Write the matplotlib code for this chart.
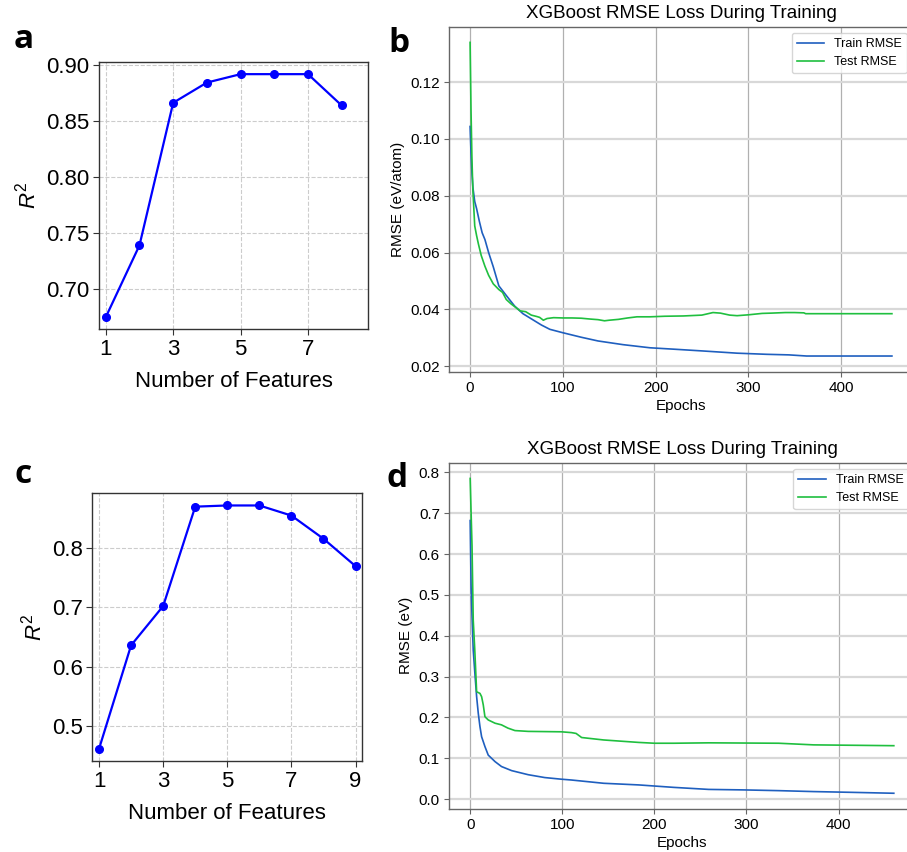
import matplotlib
matplotlib.use("Agg")
import matplotlib.pyplot as plt

plt.rcParams['font.family'] = ['Liberation Sans', 'DejaVu Sans']
plt.rcParams['mathtext.fontset'] = 'custom'
plt.rcParams['mathtext.rm'] = 'Liberation Sans'
plt.rcParams['mathtext.it'] = 'Liberation Sans:italic'

# ---------------- data ----------------
feat_a = [1, 2, 3, 4, 5, 6, 7, 8]
r2_a = [0.675, 0.739, 0.866, 0.884, 0.8915, 0.8915, 0.8915, 0.8636]

feat_c = [1, 2, 3, 4, 5, 6, 7, 8, 9]
r2_c = [0.462, 0.636, 0.702, 0.869, 0.871, 0.871, 0.854, 0.815, 0.769]

ep_b_train = [0, 1, 2, 3, 5, 7, 10, 13, 16, 20, 25, 31, 40, 48, 57, 67, 77, 86,
              100, 120, 138, 165, 194, 220, 250, 288, 320, 344, 363, 400, 455]
rmse_b_train = [0.1044, 0.095, 0.088, 0.083, 0.078, 0.0755, 0.071, 0.067, 0.0646,
                0.060, 0.055, 0.0483, 0.0445, 0.0412, 0.0385, 0.0365, 0.0345, 0.033,
                0.0318, 0.0302, 0.0289, 0.0276, 0.0265, 0.026, 0.0254, 0.0246,
                0.0242, 0.0240, 0.0236, 0.0236, 0.0236]

ep_b_test = [0, 1, 2, 3, 5, 7, 9, 12, 16, 20, 25, 31, 35, 39, 44, 48, 54, 60, 66,
             72, 75, 79, 83, 90, 100, 110, 120, 130, 138, 145, 150, 160, 170, 180,
             194, 210, 230, 250, 262, 270, 280, 288, 300, 315, 325, 340, 350, 360,
             362, 400, 455]
rmse_b_test = [0.134, 0.110, 0.093, 0.082, 0.0694, 0.066, 0.063, 0.059, 0.0552,
               0.052, 0.049, 0.047, 0.046, 0.0435, 0.042, 0.041, 0.0395, 0.0392,
               0.038, 0.0375, 0.0372, 0.0362, 0.0368, 0.0371, 0.0370, 0.0370,
               0.0369, 0.0366, 0.0364, 0.0360, 0.0362, 0.0365, 0.0370, 0.0374,
               0.0374, 0.0376, 0.0377, 0.0380, 0.0389, 0.0387, 0.0380, 0.0378,
               0.0381, 0.0386, 0.0387, 0.0389, 0.0389, 0.0388, 0.0385, 0.0385, 0.0385]

ep_d_train = [0, 1, 2, 3.3, 5.1, 7, 8.8, 10.6, 12.4, 16, 19.6, 27, 34, 45, 63, 81,
              99, 110, 145, 183, 221, 259, 297, 335, 373, 411, 460]
rmse_d_train = [0.682, 0.52, 0.447, 0.365, 0.308, 0.251, 0.21, 0.178, 0.153, 0.129,
                0.108, 0.092, 0.080, 0.070, 0.060, 0.053, 0.049, 0.047, 0.039,
                0.035, 0.029, 0.024, 0.0228, 0.021, 0.0187, 0.017, 0.0146]

ep_d_test = [0, 1, 2, 3.3, 5, 7, 10.6, 12.4, 14.2, 16, 19.6, 27, 34, 41, 48.6, 63,
             99, 110, 115, 121, 145, 183, 200, 221, 259, 335, 373, 460]
rmse_d_test = [0.785, 0.70, 0.62, 0.439, 0.365, 0.263, 0.259, 0.251, 0.231, 0.202,
               0.194, 0.186, 0.182, 0.174, 0.168, 0.166, 0.165, 0.163, 0.161, 0.151,
               0.145, 0.139, 0.137, 0.137, 0.138, 0.137, 0.133, 0.131]

TRAIN_C = '#1f5fbf'
TEST_C = '#1fbf3f'

W, H = 907, 852
fig = plt.figure(figsize=(W / 100, H / 100), dpi=100)


def pos(l, t, r, b):
    return [l / W, 1 - b / H, (r - l) / W, (b - t) / H]


def r2_panel(rect, x, y, xlim, yticks, yfmt):
    ax = fig.add_axes(rect)
    ax.plot(x, y, color='#0000ff', lw=1.6, marker='o', ms=5.5)
    ax.set_xticks([1, 3, 5, 7, 9])
    ax.set_xlim(*xlim)
    ax.set_yticks(yticks)
    ax.set_yticklabels([yfmt.format(v) for v in yticks])
    ax.grid(True, ls='--', color='#cccccc', lw=0.8)
    ax.set_axisbelow(True)
    for s in ax.spines.values():
        s.set_color('#333333')
        s.set_linewidth(1.0)
    ax.tick_params(labelsize=16, length=4, width=0.8, color='#333333', pad=3)
    ax.set_xlabel('Number of Features', fontsize=16, labelpad=8)
    ax.set_ylabel('$R^2$', fontsize=16, labelpad=4)
    return ax


def loss_panel(rect, ep_tr, v_tr, ep_te, v_te, ylabel):
    ax = fig.add_axes(rect)
    ax.plot(ep_tr, v_tr, color=TRAIN_C, lw=1.2, label='Train RMSE')
    ax.plot(ep_te, v_te, color=TEST_C, lw=1.2, label='Test RMSE')
    ax.set_xticks([0, 100, 200, 300, 400])
    ax.yaxis.grid(True, color='#d8d8d8', lw=1.6)
    ax.xaxis.grid(True, color='#b0b0b0', lw=0.9)
    ax.set_axisbelow(True)
    for s in ax.spines.values():
        s.set_color('#666666')
        s.set_linewidth(1.0)
    ax.tick_params(labelsize=11, length=3.5, width=0.8, color='#666666', pad=3)
    ax.set_xlabel('Epochs', fontsize=11, labelpad=3)
    ax.set_ylabel(ylabel, fontsize=11, labelpad=4)
    ax.set_title('XGBoost RMSE Loss During Training', fontsize=13.5, pad=6)
    ax.legend(loc='upper right', fontsize=9, frameon=True, fancybox=True,
              edgecolor='#cccccc', handlelength=2.2)
    return ax


ax_a = r2_panel(pos(98.7, 62, 368.3, 329.3), feat_a, r2_a, (0.79, 8.79),
                [0.70, 0.75, 0.80, 0.85, 0.90], '{:.2f}')
ax_c = r2_panel(pos(92.3, 493.3, 362.3, 761), feat_c, r2_c, (0.79, 9.21),
                [0.5, 0.6, 0.7, 0.8], '{:.1f}')

ax_b = loss_panel(pos(449, 26.7, 913, 371.7), ep_b_train, rmse_b_train,
                  ep_b_test, rmse_b_test, 'RMSE (eV/atom)')
ax_b.set_yticks([0.02, 0.04, 0.06, 0.08, 0.10, 0.12])
ax_b.set_yticklabels(['0.02', '0.04', '0.06', '0.08', '0.10', '0.12'])

ax_d = loss_panel(pos(449, 462.7, 915, 809), ep_d_train, rmse_d_train,
                  ep_d_test, rmse_d_test, 'RMSE (eV)')
ax_d.set_yticks([0.0, 0.1, 0.2, 0.3, 0.4, 0.5, 0.6, 0.7, 0.8])

# panel letters
for letter, x, y in [('a', 14, 48), ('b', 388, 52), ('c', 14, 483), ('d', 386, 487)]:
    fig.text(x / W, 1 - y / H, letter, fontsize=24, fontweight='bold',
             family=['Open Sans', 'DejaVu Sans'], va='baseline', ha='left')

fig.savefig('out.png', dpi=100)
